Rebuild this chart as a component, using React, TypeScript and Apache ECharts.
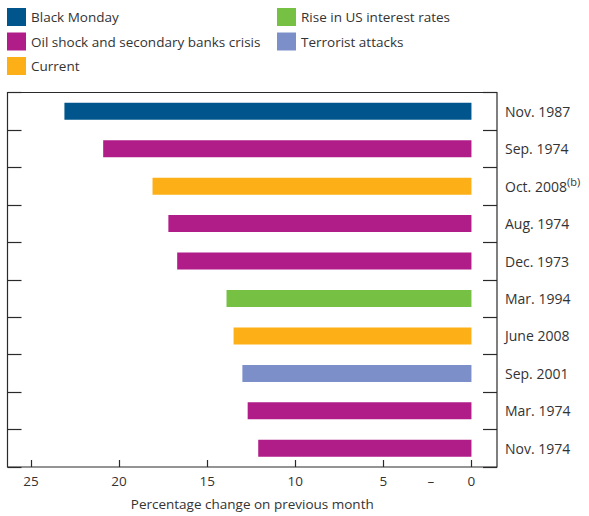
import React, { useEffect, useRef } from "react";
import * as echarts from "echarts";

const categories = [
  "Nov. 1987",
  "Sep. 1974",
  "Oct. 2008",
  "Aug. 1974",
  "Dec. 1973",
  "Mar. 1994",
  "June 2008",
  "Sep. 2001",
  "Mar. 1974",
  "Nov. 1974",
];
const values = [23.1, 20.9, 18.1, 17.2, 16.7, 13.9, 13.5, 13.0, 12.7, 12.1];
const groups = [
  "Black Monday",
  "Oil shock and secondary banks crisis",
  "Current",
  "Oil shock and secondary banks crisis",
  "Oil shock and secondary banks crisis",
  "Rise in US interest rates",
  "Current",
  "Terrorist attacks",
  "Oil shock and secondary banks crisis",
  "Oil shock and secondary banks crisis",
];
const seriesNames = [
  "Black Monday",
  "Oil shock and secondary banks crisis",
  "Current",
  "Rise in US interest rates",
  "Terrorist attacks",
];
const seriesColors = ["#00568C", "#B01C88", "#FCAF17", "#76C043", "#7C8FC8"];
const xTickValues = [0, 5, 10, 15, 20, 25];
const minusSignPos = 2.3;
const footnoteCategory = "Oct. 2008";
const footnoteMark = "(b)";

const FONT = "'Open Sans', sans-serif";
const TEXT = "#333333";

export default function App() {
  const ref = useRef<HTMLDivElement>(null);
  useEffect(() => {
    if (!ref.current) return;
    const chart = echarts.init(ref.current, null, { renderer: "svg" });
    const series = seriesNames.map((name, si) => ({
      name,
      type: "bar",
      stack: "all",
      barWidth: 17,
      itemStyle: { color: seriesColors[si] },
      data: values.map((v, i) => (groups[i] === name ? v : "-")),
    }));
    const legendCommon = {
      orient: "vertical",
      itemWidth: 19,
      itemHeight: 18,
      itemGap: 6.5,
      padding: 0,
      icon: "rect",
      textStyle: { fontFamily: FONT, fontSize: 13.5, color: TEXT },
    };
    chart.setOption({
      animation: false,
      textStyle: { fontFamily: FONT },
      legend: [
        { ...legendCommon, left: 7, top: 8, data: seriesNames.slice(0, 3) },
        { ...legendCommon, left: 277, top: 8, data: seriesNames.slice(3) },
      ],
      grid: {
        left: 7.5,
        right: 92,
        top: 92.5,
        bottom: 47,
        show: true,
        borderColor: "#2a2a2a",
        borderWidth: 1.2,
        containLabel: false,
      },
      xAxis: {
        type: "value",
        inverse: true,
        min: -1.45,
        max: 26.33,
        axisLine: { show: false },
        splitLine: { show: false },
        axisTick: {
          show: true,
          inside: true,
          length: 7,
          customValues: xTickValues,
          lineStyle: { color: "#2a2a2a", width: 1.2 },
        },
        axisLabel: {
          customValues: [...xTickValues, minusSignPos],
          formatter: (v: number) => (Math.abs(v - minusSignPos) < 1e-6 ? "–" : String(v)),
          fontFamily: FONT,
          fontSize: 13.5,
          color: TEXT,
          margin: 7,
        },
        name: "Percentage change on previous month",
        nameLocation: "middle",
        nameGap: 30,
        nameTextStyle: { fontFamily: FONT, fontSize: 13.5, color: TEXT },
      },
      yAxis: [
        {
          type: "category",
          data: categories,
          inverse: true,
          position: "right",
          axisLine: { show: false, onZero: false },
          axisTick: {
            show: true,
            inside: true,
            length: 14,
            lineStyle: { color: "#2a2a2a", width: 1.2 },
          },
          axisLabel: {
            margin: 8,
            fontFamily: FONT,
            fontSize: 14,
            color: TEXT,
            formatter: (v: string) => (v === footnoteCategory ? `${v}{sup|${footnoteMark}}` : v),
            rich: {
              sup: {
                fontFamily: FONT,
                fontSize: 11,
                color: TEXT,
                verticalAlign: "bottom",
                padding: [0, 0, 10, 0],
              },
            },
          },
        },
        {
          type: "category",
          data: categories,
          inverse: true,
          position: "left",
          axisLine: { show: false, onZero: false },
          axisTick: {
            show: true,
            inside: true,
            length: 14,
            lineStyle: { color: "#2a2a2a", width: 1.2 },
          },
          axisLabel: { show: false },
        },
      ],
      series,
    });
    return () => chart.dispose();
  }, []);
  return (
    <div
      ref={ref}
      style={{ position: "absolute", left: 0, top: 0, width: 589, height: 516 }}
    />
  );
}
